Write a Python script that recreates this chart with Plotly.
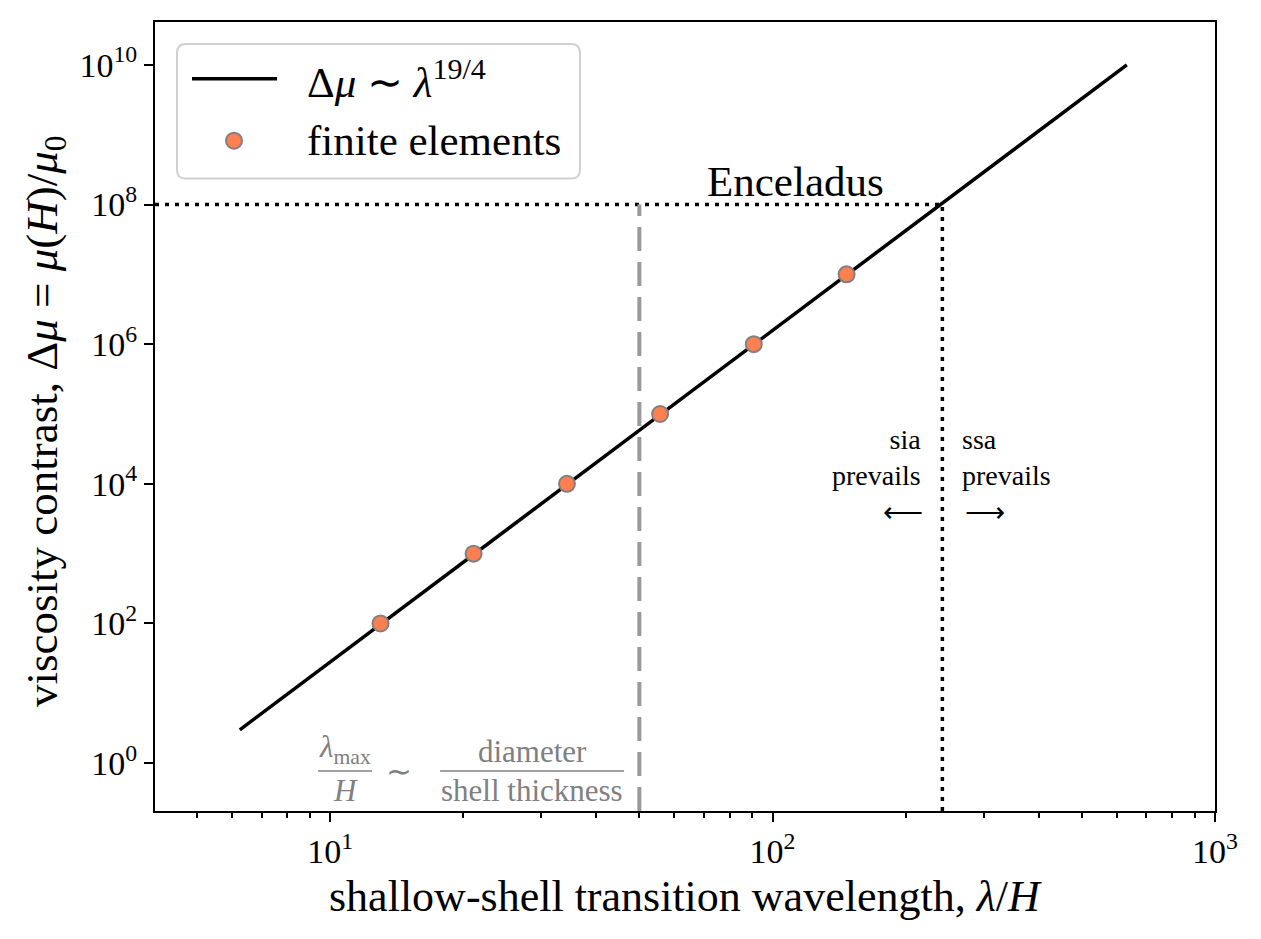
import numpy as np
import plotly.graph_objects as go

# finite element results
fe_lambda = [13.0, 21.1, 34.3, 55.7, 90.7, 147.0]
fe_contrast = [1e2, 1e3, 1e4, 1e5, 1e6, 1e7]

# power law fit, end points of the line
fit_lambda = [6.25, 632.0]
fit_contrast = [3.0, 1e10]

# Enceladus
enceladus_contrast = 1e8
enceladus_lambda = 242.0
lambda_max = 50.0

xtick_vals = [10, 100, 1000]
xtick_text = ["10<sup>1</sup>", "10<sup>2</sup>", "10<sup>3</sup>"]
ytick_vals = [1, 1e2, 1e4, 1e6, 1e8, 1e10]
ytick_text = ["10<sup>0</sup>", "10<sup>2</sup>", "10<sup>4</sup>", "10<sup>6</sup>",
              "10<sup>8</sup>", "10<sup>10</sup>"]

legend_names = ["Δ<i>μ</i> ∼ <i>λ</i><sup>19/4</sup>", "finite elements"]
x_title = "shallow-shell transition wavelength, <i>λ</i>/<i>H</i>"
y_title = "viscosity contrast, Δ<i>μ</i> = <i>μ</i>(<i>H</i>)/<i>μ</i><sub>0</sub>"

font = "Liberation Serif"
coral = "#FF7F50"
xr = [np.log10(4.02), 3.0]
yr = [-0.686, 10.614]
x_minor = [m * 10**e for e in range(0, 3) for m in range(2, 10) if 4 <= m * 10**e < 1000]


# helpers for placing text labels (window pixel -> axis / paper units)
def xlog(px):
    return 1 + (px - 330) / 442.5


def ylog(py):
    return (763 - py) / 70


def px_(p):
    return (p - 155) / 1060


def py_(p):
    return 1 - (p - 20) / 791


fig = go.Figure()

# Enceladus lines
dots = dict(color="black", width=3.5, dash="4px,6px")
fig.add_trace(go.Scatter(x=[10**xr[0], enceladus_lambda], y=[enceladus_contrast] * 2,
                         mode="lines", line=dots, showlegend=False, hoverinfo="skip"))
fig.add_trace(go.Scatter(x=[enceladus_lambda] * 2, y=[10**yr[0], enceladus_contrast],
                         mode="lines", line=dots, showlegend=False, hoverinfo="skip"))
fig.add_trace(go.Scatter(x=[lambda_max] * 2, y=[10**yr[0], enceladus_contrast],
                         mode="lines", line=dict(color="#999999", width=4, dash="24px,11px"),
                         showlegend=False, hoverinfo="skip"))

fig.add_trace(go.Scatter(x=fit_lambda, y=fit_contrast, mode="lines",
                         line=dict(color="black", width=3.5),
                         name=legend_names[0], showlegend=False))
fig.add_trace(go.Scatter(x=fe_lambda, y=fe_contrast, mode="markers",
                         marker=dict(size=16, color=coral,
                                     line=dict(color="#808080", width=2)),
                         name=legend_names[1], showlegend=False))

# legend box (drawn by hand so it can look like the matplotlib one)
bx0, bx1, by0, by1 = px_(177), px_(580), py_(42), py_(177)
rx, ry = 9 / 1060, 9 / 791
path = (f"M{bx0 + rx},{by0} L{bx1 - rx},{by0} Q{bx1},{by0} {bx1},{by0 - ry} "
        f"L{bx1},{by1 + ry} Q{bx1},{by1} {bx1 - rx},{by1} L{bx0 + rx},{by1} "
        f"Q{bx0},{by1} {bx0},{by1 + ry} L{bx0},{by0 - ry} Q{bx0},{by0} {bx0 + rx},{by0} Z")
fig.add_shape(type="path", path=path, xref="paper", yref="paper",
              fillcolor="rgba(255,255,255,0.8)", line=dict(color="#d0d0d0", width=2))
fig.add_shape(type="line", xref="paper", yref="paper", x0=px_(192), x1=px_(277),
              y0=py_(77), y1=py_(77), line=dict(color="black", width=3.5))
fig.add_shape(type="circle", xref="paper", yref="paper", xsizemode="pixel",
              ysizemode="pixel", xanchor=px_(234), yanchor=py_(139),
              x0=-8, x1=8, y0=-8, y1=8, fillcolor=coral,
              line=dict(color="#808080", width=2))
for name, yy in zip(legend_names, [77, 139]):
    fig.add_annotation(xref="paper", yref="paper", x=px_(305), y=py_(yy), text=name,
                       xanchor="left", yanchor="middle", showarrow=False,
                       font=dict(family=font, size=43, color="black"))

ann = dict(showarrow=False, font=dict(family=font, size=28, color="black"))
fig.add_annotation(x=xlog(795), y=7.97, text="Enceladus", yanchor="bottom",
                   showarrow=False, font=dict(family=font, size=43, color="black"))
fig.add_annotation(x=xlog(923), y=ylog(457), text="sia<br>prevails", xanchor="right",
                   align="right", **ann)
fig.add_annotation(x=xlog(960), y=ylog(457), text="ssa<br>prevails", xanchor="left",
                   align="left", **ann)
fig.add_annotation(x=xlog(903), y=ylog(512), text="⟵", **ann)
fig.add_annotation(x=xlog(985), y=ylog(512), text="⟶", **ann)

# lambda_max / H ~ diameter / shell thickness
gray = dict(family=font, size=31, color="#808080")
bar = -0.114
fig.add_annotation(x=xlog(345), y=bar, text="<i>λ</i><sub>max</sub>",
                   yanchor="bottom", showarrow=False, font=gray)
fig.add_annotation(x=xlog(345), y=bar, text="<i>H</i>",
                   yanchor="top", showarrow=False, font=gray)
fig.add_annotation(x=xlog(399), y=bar, text="∼", showarrow=False, font=gray)
fig.add_annotation(x=xlog(532), y=bar, text="diameter",
                   yanchor="bottom", showarrow=False, font=gray)
fig.add_annotation(x=xlog(532), y=bar, text="shell thickness",
                   yanchor="top", showarrow=False, font=gray)
for a, b in [(318, 372), (440, 624)]:
    fig.add_shape(type="line", xref="x", yref="y", x0=10**xlog(a), x1=10**xlog(b),
                  y0=10**bar, y1=10**bar, line=dict(color="#808080", width=1.5))

# axis titles
fig.add_annotation(xref="paper", yref="paper", x=px_(685), y=py_(897), text=x_title,
                   xanchor="center", yanchor="middle", showarrow=False,
                   font=dict(family=font, size=44, color="black"))
fig.add_annotation(xref="paper", yref="paper", x=px_(45), y=py_(420), text=y_title,
                   xanchor="center", yanchor="middle", textangle=-90, showarrow=False,
                   font=dict(family=font, size=45, color="black"))

axis = dict(showline=True, linecolor="black", linewidth=2, mirror=True,
            ticks="outside", ticklen=9, tickwidth=2, tickcolor="black",
            showgrid=False, zeroline=False,
            tickfont=dict(family=font, size=34, color="black"))

fig.update_layout(
    width=1245, height=923,
    margin=dict(l=147, r=38, t=12, b=120),
    paper_bgcolor="white", plot_bgcolor="white",
    font=dict(family=font, color="black"),
    showlegend=False,
    xaxis=dict(type="log", range=xr, tickvals=xtick_vals, ticktext=xtick_text,
               minor=dict(ticks="outside", ticklen=5, tickwidth=1.5, tickcolor="black",
                          tickvals=x_minor, showgrid=False),
               **axis),
    yaxis=dict(type="log", range=yr, tickvals=ytick_vals, ticktext=ytick_text, **axis),
)

fig.write_html("out.html")
